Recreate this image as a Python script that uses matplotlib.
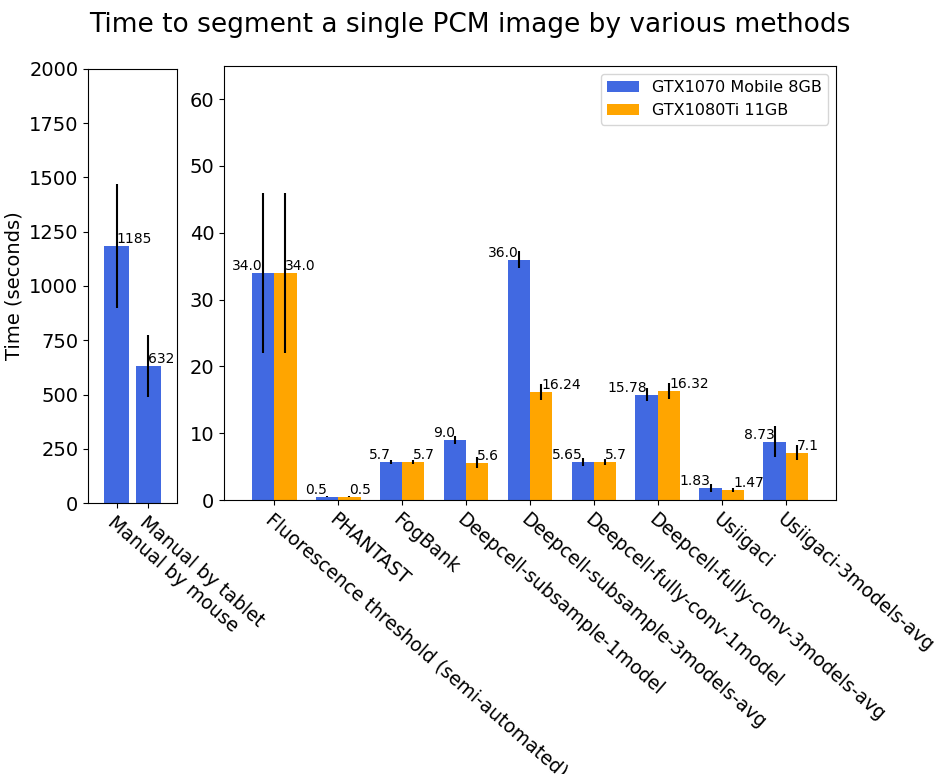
import matplotlib
matplotlib.use("Agg")
import matplotlib.pyplot as plt
import numpy as np

manual_labels = ["Manual by mouse", "Manual by tablet"]
manual_values = [1185, 632]
manual_err = [285, 143]

methods = ["Fluorescence threshold (semi-automated)", "PHANTAST", "FogBank",
           "Deepcell-subsample-1model", "Deepcell-subsample-3models-avg",
           "Deepcell-fully-conv-1model", "Deepcell-fully-conv-3models-avg",
           "Usiigaci", "Usiigaci-3models-avg"]
gtx1070 = [34.0, 0.5, 5.7, 9.0, 36.0, 5.65, 15.78, 1.83, 8.73]
gtx1070_err = [12.0, 0.1, 0.3, 0.6, 1.2, 0.6, 1.0, 0.6, 2.3]
gtx1080 = [34.0, 0.5, 5.7, 5.6, 16.24, 5.7, 16.32, 1.47, 7.1]
gtx1080_err = [12.0, 0.1, 0.3, 0.8, 1.2, 0.4, 1.2, 0.3, 1.1]
series_names = ["GTX1070 Mobile 8GB", "GTX1080Ti 11GB"]

fig = plt.figure(figsize=(9.4, 7.74), dpi=100)
ax1 = fig.add_axes([0.0936, 0.350, 0.0947, 0.561])
ax2 = fig.add_axes([0.2383, 0.354, 0.651, 0.561])

blue = "#4169E1"
orange = "#FFA500"

# left panel
x1 = np.arange(len(manual_labels))
ax1.bar(x1, manual_values, width=0.8, color=blue, yerr=manual_err, ecolor="black")
for xi, v in zip(x1, manual_values):
    ax1.text(xi, v, str(v), ha="left", va="bottom", fontsize=10)
ax1.set_ylim(0, 2000)
ax1.set_xlim(-0.9, 1.9)
ax1.set_xticks(x1)
ax1.set_xticklabels(manual_labels, rotation=-41, ha="left", rotation_mode="anchor", fontsize=13.5)
ax1.tick_params(axis="y", labelsize=14)
ax1.set_ylabel("Time (seconds)", fontsize=14)

# right panel
w = 0.35
x2 = np.arange(len(methods))
ax2.bar(x2 - w / 2, gtx1070, width=w, color=blue, yerr=gtx1070_err, ecolor="black", label=series_names[0])
ax2.bar(x2 + w / 2, gtx1080, width=w, color=orange, yerr=gtx1080_err, ecolor="black", label=series_names[1])
for xi, v in zip(x2, gtx1070):
    ax2.text(xi - w / 2, v, str(v), ha="right", va="bottom", fontsize=10)
for xi, v in zip(x2, gtx1080):
    ax2.text(xi + w / 2, v, str(v), ha="left", va="bottom", fontsize=10)
ax2.set_ylim(0, 65)
ax2.set_yticks([0, 10, 20, 30, 40, 50, 60])
ax2.set_xticks(x2)
ax2.set_xticklabels(methods, rotation=-41, ha="left", rotation_mode="anchor", fontsize=13.5)
ax2.tick_params(axis="y", labelsize=14)
ax2.legend(loc="upper right", fontsize=11.5)

fig.suptitle("Time to segment a single PCM image by various methods", fontsize=19, y=0.985)

fig.savefig("out.png", dpi=100)
